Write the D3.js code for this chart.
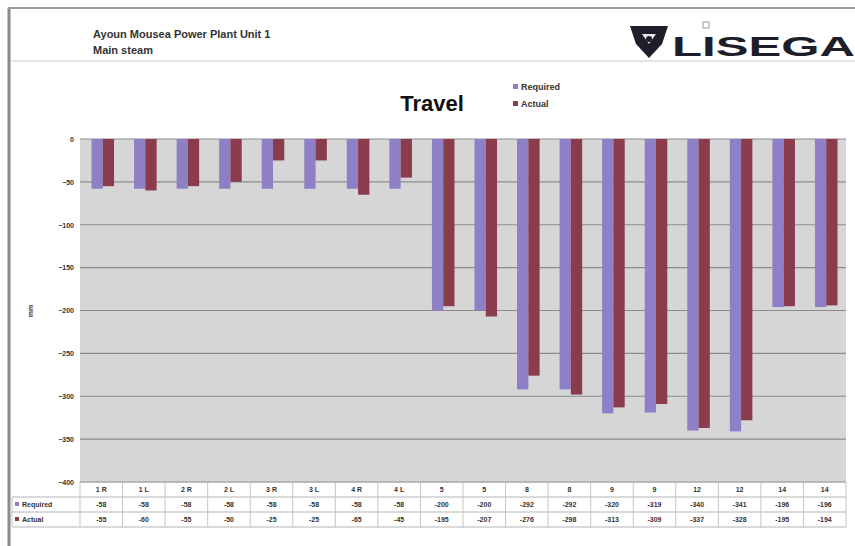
<!DOCTYPE html>
<html>
<head>
<meta charset="utf-8">
<script src="https://cdn.jsdelivr.net/npm/d3@7"></script>
<style>
  body { margin:0; background:#fff; }
  svg text { font-family: "Liberation Sans", Arial, sans-serif; }
</style>
</head>
<body>
<div id="chart"></div>
<script>
// values (mm)
var categories = ["1 R","1 L","2 R","2 L","3 R","3 L","4 R","4 L","5","5","8","8","9","9","12","12","14","14"]
var required = [-58,-58,-58,-58,-58,-58,-58,-58,-200,-200,-292,-292,-320,-319,-340,-341,-196,-196]
var actual = [-55,-60,-55,-50,-25,-25,-65,-45,-195,-207,-276,-298,-313,-309,-337,-328,-195,-194]
var y_ticks = [0,-50,-100,-150,-200,-250,-300,-350,-400]
var series_names = ["Required","Actual"]
var series_colors = ["#8f7fc6","#8a3b4c"]

var W = 855, H = 546
var svg = d3.select("#chart").append("svg").attr("width", W).attr("height", H)

// frame
svg.append("line").attr("x1",9).attr("x2",9).attr("y1",8).attr("y2",H).attr("stroke","#8a8a8a").attr("stroke-width",3)
svg.append("line").attr("x1",8).attr("x2",W).attr("y1",8).attr("y2",8).attr("stroke","#9a9a9a").attr("stroke-width",2)
svg.append("line").attr("x1",10).attr("x2",W).attr("y1",61).attr("y2",61).attr("stroke","#c8c8c8").attr("stroke-width",1)

// header
svg.append("text").attr("x",93).attr("y",38).style("font-size","11px").style("font-weight","bold").attr("fill","#333").text("Ayoun Mousea Power Plant Unit 1")
svg.append("text").attr("x",93).attr("y",54).style("font-size","11px").style("font-weight","bold").attr("fill","#333").text("Main steam")

// logo
var logo = svg.append("g").attr("transform","translate(630,22)")
logo.append("path").attr("d","M0,4 L38,4 L32,22 L19,36 L6,22 Z").attr("fill","#1e1e2a")
logo.append("path").attr("d","M12,12 L26,12 L19,22 Z").attr("fill","#e8e8e8")
logo.append("circle").attr("cx",19).attr("cy",17).attr("r",3).attr("fill","#1e1e2a")
logo.append("rect").attr("x",73).attr("y",0).attr("width",6).attr("height",6).attr("fill","none").attr("stroke","#999")
logo.append("text").attr("x",42).attr("y",34).attr("textLength",183).attr("lengthAdjust","spacingAndGlyphs")
  .style("font-size","27px").style("font-weight","900").attr("fill","#1e1e2a").text("LISEGA")

// title and legend
svg.append("text").attr("x",432).attr("y",111).attr("text-anchor","middle").style("font-size","22px").style("font-weight","bold").attr("fill","#111").text("Travel")
var leg = svg.append("g").attr("transform","translate(513,84)")
series_names.forEach(function(n,i){
  leg.append("rect").attr("x",0).attr("y",i*17).attr("width",5).attr("height",5).attr("fill",series_colors[i])
  leg.append("text").attr("x",8).attr("y",i*17+6).style("font-size","9px").style("font-weight","bold").attr("fill","#333").text(n)
})

// plot area
var plot_left = 80, plot_right = 846, plot_top = 139, plot_bottom = 482
var x = d3.scaleBand().domain(d3.range(categories.length)).range([plot_left,plot_right]).paddingInner(0).paddingOuter(0)
var y = d3.scaleLinear().domain([-400,0]).range([plot_bottom,plot_top])
var bw = x.bandwidth()
var inner = d3.scaleBand().domain([0,1]).range([bw*0.27,bw*0.80]).padding(0)

svg.append("rect").attr("x",plot_left).attr("y",plot_top).attr("width",plot_right-plot_left).attr("height",plot_bottom-plot_top).attr("fill","#d6d6d6")

svg.append("g").selectAll("line").data(y_ticks).join("line")
  .attr("x1",plot_left).attr("x2",plot_right).attr("y1",d=>y(d)).attr("y2",d=>y(d))
  .attr("stroke","#8c8c8c").attr("stroke-width",1.2)

var yAxis = svg.append("g").attr("transform","translate("+plot_left+",0)")
  .call(d3.axisLeft(y).tickValues(y_ticks).tickSize(0).tickPadding(6).tickFormat(d3.format("d")))
yAxis.select(".domain").remove()
yAxis.selectAll("text").style("font-size","7px").style("font-weight","bold").attr("fill","#333")

svg.append("text").attr("transform","translate(33,311) rotate(-90)").attr("text-anchor","middle")
  .style("font-size","7px").style("font-weight","bold").attr("fill","#333").text("mm")

var data = [required, actual]
data.forEach(function(vals,s){
  svg.append("g").selectAll("rect").data(vals).join("rect")
    .attr("x",(d,i)=>x(i)+inner(s))
    .attr("y",y(0))
    .attr("width",inner.bandwidth())
    .attr("height",d=>y(d)-y(0))
    .attr("fill",series_colors[s])
})

// data table
var rowY = [482,497,512,527]
var tg = svg.append("g")
rowY.forEach(function(ry){
  tg.append("line").attr("x1",ry==482?plot_left:12).attr("x2",plot_right).attr("y1",ry).attr("y2",ry).attr("stroke","#b5b5b5")
})
d3.range(categories.length+1).forEach(function(i){
  var xx = i<categories.length ? x(i) : plot_right
  tg.append("line").attr("x1",xx).attr("x2",xx).attr("y1",482).attr("y2",527).attr("stroke","#c5c5c5")
})
tg.append("line").attr("x1",12).attr("x2",12).attr("y1",497).attr("y2",527).attr("stroke","#c5c5c5")

tg.selectAll("text.cat").data(categories).join("text").attr("class","cat")
  .attr("x",(d,i)=>x(i)+bw/2).attr("y",492).attr("text-anchor","middle")
  .style("font-size","7px").style("font-weight","bold").attr("fill","#333").text(d=>d)
data.forEach(function(vals,s){
  tg.selectAll("text.v"+s).data(vals).join("text").attr("class","v"+s)
    .attr("x",(d,i)=>x(i)+bw/2).attr("y",507+s*15).attr("text-anchor","middle")
    .style("font-size","7px").style("font-weight","bold").attr("fill","#333").text(d=>d)
  tg.append("rect").attr("x",15).attr("y",502+s*15).attr("width",4).attr("height",4).attr("fill",series_colors[s])
  tg.append("text").attr("x",22).attr("y",507+s*15).style("font-size","7px").style("font-weight","bold").attr("fill","#333").text(series_names[s])
})
</script>
</body>
</html>
